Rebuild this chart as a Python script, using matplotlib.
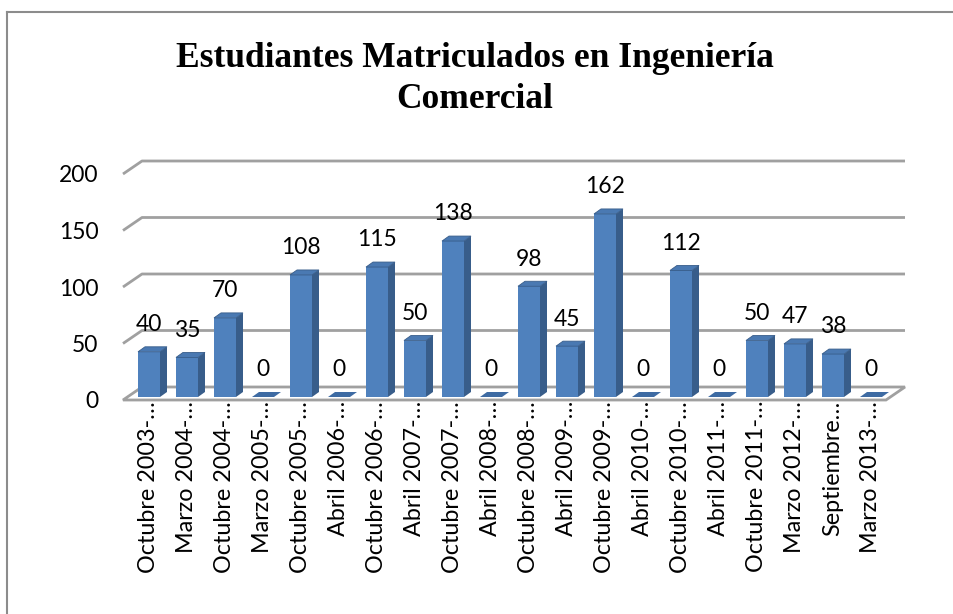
import matplotlib
matplotlib.use("Agg")
import matplotlib.pyplot as plt
from matplotlib.patches import Polygon
from matplotlib.lines import Line2D

categories = ["Octubre 2003-…", "Marzo 2004-…", "Octubre 2004-…", "Marzo 2005-…",
              "Octubre 2005-…", "Abril 2006-…", "Octubre 2006-…", "Abril 2007-…",
              "Octubre 2007-…", "Abril 2008-…", "Octubre 2008-…", "Abril 2009-…",
              "Octubre 2009-…", "Abril 2010-…", "Octubre 2010-…", "Abril 2011-…",
              "Octubre 2011-…", "Marzo 2012-…", "Septiembre…", "Marzo 2013-…"]
values = [40, 35, 70, 0, 108, 0, 115, 50, 138, 0, 98, 45, 162, 0, 112, 0, 50, 47, 38, 0]
yticks = [0, 50, 100, 150, 200]
title = "Estudiantes Matriculados en Ingeniería\nComercial"

W, H = 954, 614
fig = plt.figure(figsize=(W / 100, H / 100), dpi=100)

# pixel mapping: x_px = 149 + 38*x ; y_px = 400 - 1.13*v
PX_X, X0 = 38.0, 149.0
PX_Y, Y0 = 1.13, 400.0
ax_l, ax_r, ax_t, ax_b = 100, 920, 140, 401
ax = fig.add_axes([ax_l / W, (H - ax_b) / H, (ax_r - ax_l) / W, (ax_b - ax_t) / H])
ax.set_xlim((ax_l - X0) / PX_X, (ax_r - X0) / PX_X)
ax.set_ylim((Y0 - ax_b) / PX_Y, (Y0 - ax_t) / PX_Y)
ax.patch.set_alpha(0)
for s in ax.spines.values():
    s.set_visible(False)

# depth of the floor/walls (data units)
DX, DY = 19 / PX_X, 13 / PX_Y
x_left = (123 - X0) / PX_X
x_right_front = (886 - X0) / PX_X
x_right_back = x_right_front + DX

grid_col = "#A0A0A0"
for v in yticks[1:]:
    ax.plot([x_left, x_left + DX, x_right_back], [v, v + DY, v + DY],
            color=grid_col, lw=2, solid_capstyle="butt", zorder=1)
floor = Polygon([(x_left, 0), (x_right_front, 0), (x_right_back, DY), (x_left + DX, DY)],
                closed=True, facecolor="white", edgecolor=grid_col, lw=2, zorder=1,
                clip_on=False)
ax.add_patch(floor)

bw = 22 / PX_X
b0 = 3 / PX_Y
sdx, sdy = 7 / PX_X, 5 / PX_Y
front_col = "#4F81BD"
side_col = "#385D8A"
top_col = "#4A79B2"
for i, v in enumerate(values):
    xl, xr = i - bw / 2, i + bw / 2
    top = b0 + v
    if v > 0:
        ax.bar(i, v, width=bw, bottom=b0, color=front_col, edgecolor="none", zorder=3)
        ax.add_patch(Polygon([(xr, b0), (xr + sdx, b0 + sdy), (xr + sdx, top + sdy), (xr, top)],
                             closed=True, facecolor=side_col, edgecolor="none", zorder=3))
        ax.add_patch(Polygon([(xl, top), (xr, top), (xr + sdx, top + sdy), (xl + sdx, top + sdy)],
                             closed=True, facecolor=top_col, edgecolor=side_col, lw=0.6, zorder=4))
    else:
        ax.add_patch(Polygon([(xl, top), (xr, top), (xr + sdx, top + sdy), (xl + sdx, top + sdy)],
                             closed=True, facecolor="#3E6BA3", edgecolor="none", zorder=3))
    ax.text(i, top + 24, str(v), ha="center", va="center", fontsize=16.5,
            family="Lato", color="black", zorder=5)

xt = list(range(len(categories)))
ax.set_xticks(xt)
ax.set_xticklabels(categories, rotation=90, fontsize=16.8, family="Lato", va="top", ha="center")
ax.tick_params(axis="x", length=0, pad=0)
ax.set_yticks(yticks)
ax.set_yticklabels([str(t) for t in yticks], fontsize=16.5, family="Lato")
ax.tick_params(axis="y", length=0, pad=1)

fig.text(475 / W, 1 - 79 / H, title, ha="center", va="center", fontsize=25.5,
         family="Liberation Serif", fontweight="bold", linespacing=1.3)

fig.add_artist(Line2D([7 / W, 1], [1 - 12 / H, 1 - 12 / H], transform=fig.transFigure,
                      color="#8C8C8C", lw=1.5))
fig.add_artist(Line2D([7 / W, 7 / W], [0, 1 - 12 / H], transform=fig.transFigure,
                      color="#8C8C8C", lw=1.5))

fig.savefig("out.png", dpi=100)
